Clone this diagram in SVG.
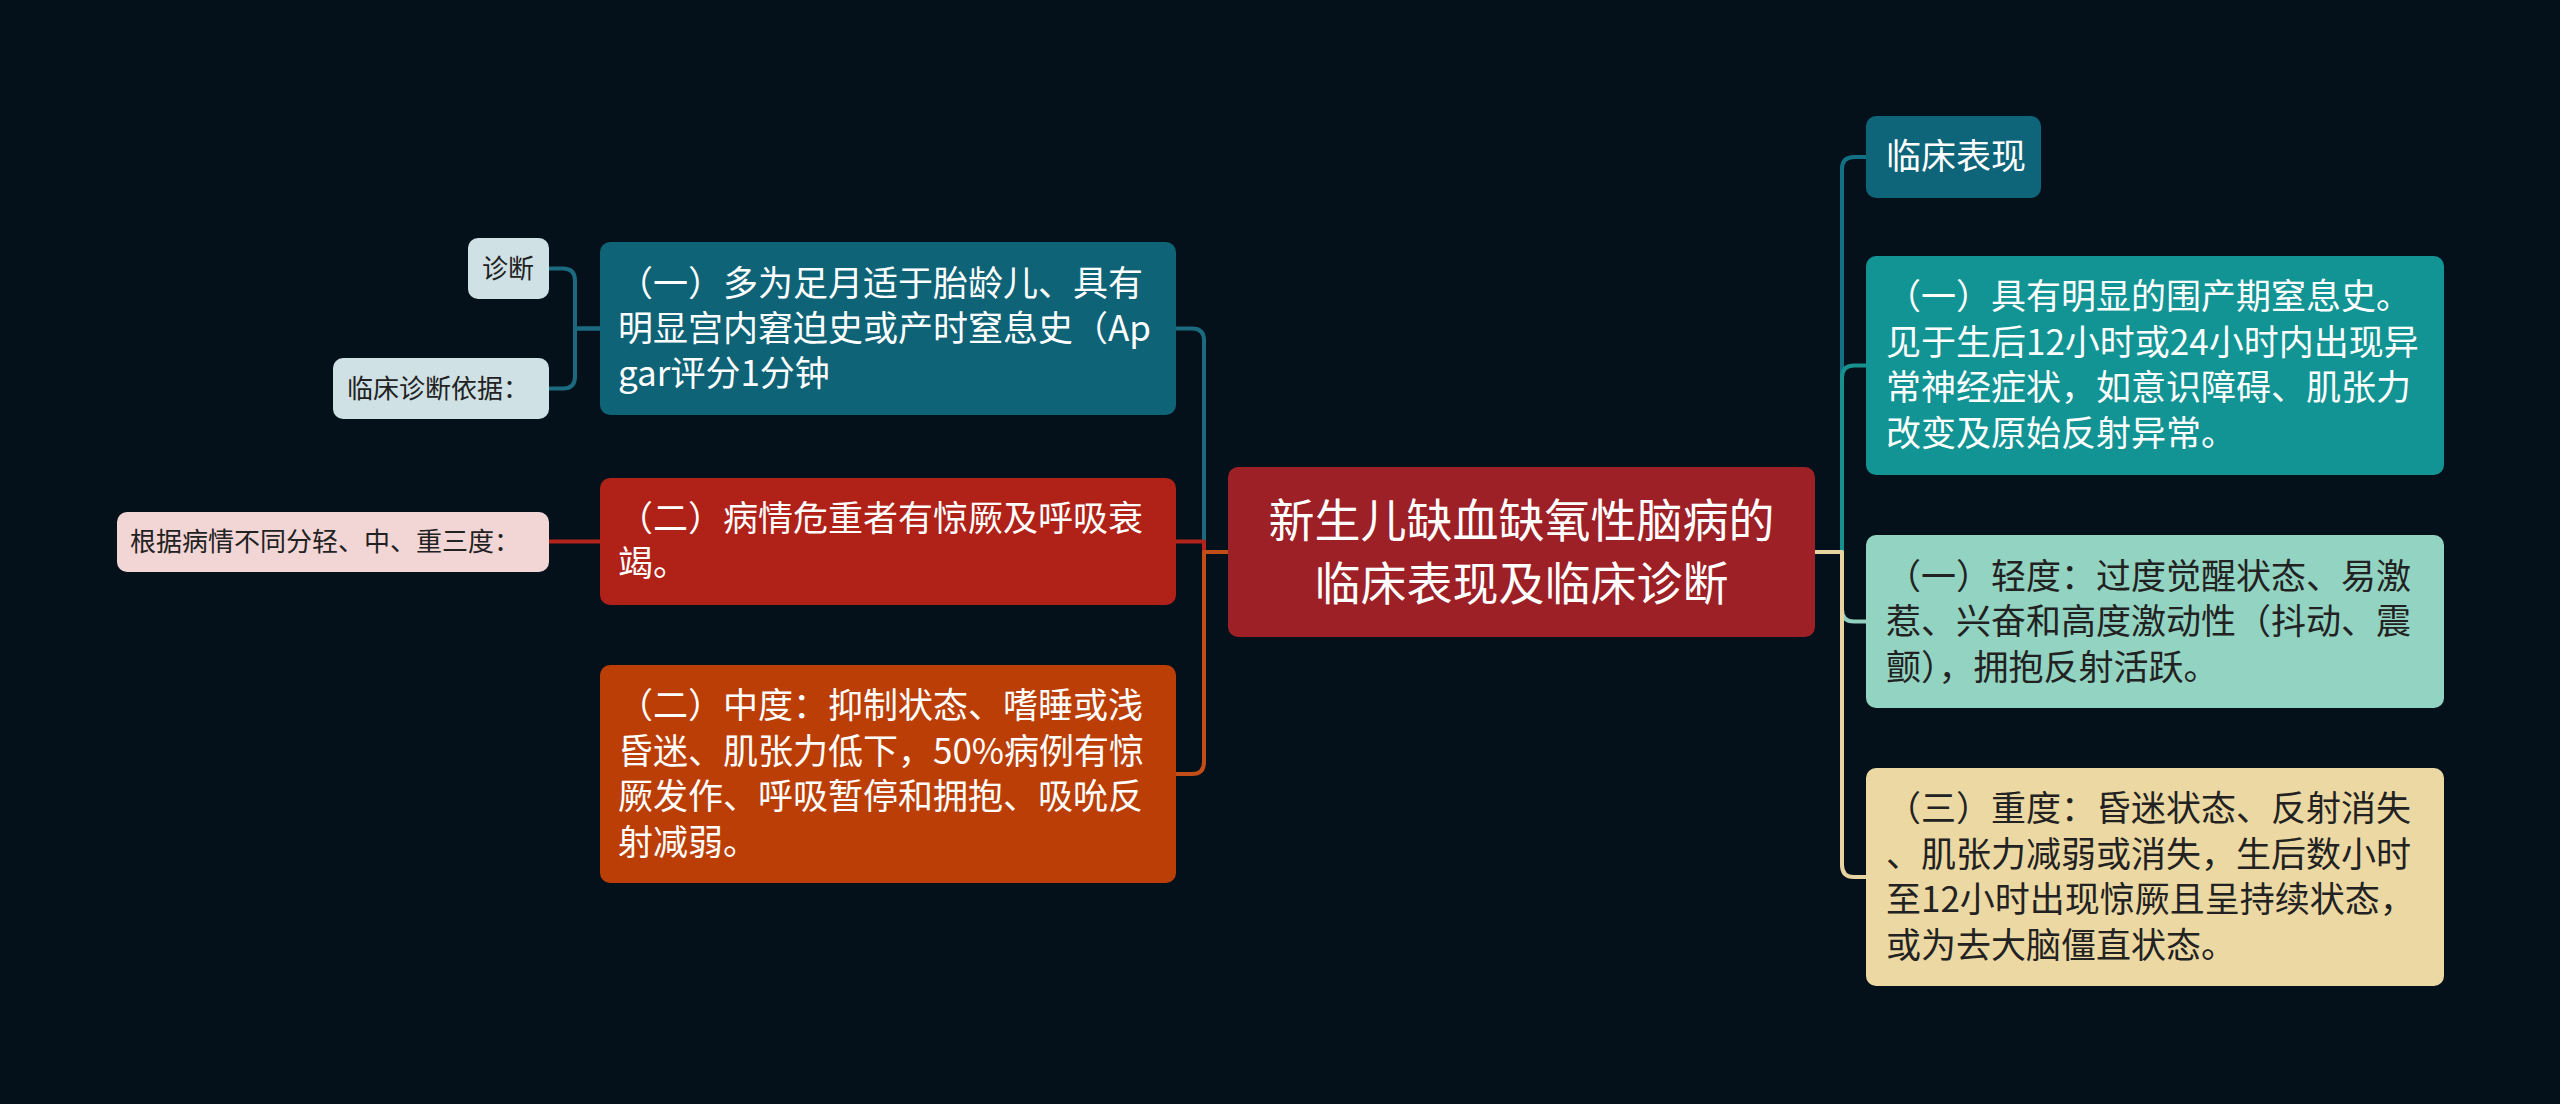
<svg xmlns="http://www.w3.org/2000/svg" width="2560" height="1104" viewBox="0 0 2560 1104">
<style>
text{font-family:"Noto Sans CJK SC","Noto Sans",sans-serif}
.m{font-size:35px}
.s{font-size:26px}
.c{font-size:46px}
.w{fill:#ffffff}
.d{fill:#222222}
.ln{fill:none;stroke-width:4;stroke-linecap:round;stroke-linejoin:round}
</style>
<rect x="0" y="0" width="2560" height="1104" fill="#04101a"/>
<g id="connectors">
<path class="ln" stroke="#1b6a7f" d="M1228,552 H1204 V340 Q1204,328.5 1192,328.5 H1176"/>
<path class="ln" stroke="#b2241b" d="M1228,552 H1204 V541.5 H1176"/>
<path class="ln" stroke="#c24d17" d="M1228,552 H1204 V762 Q1204,774 1192,774 H1176"/>
<path class="ln" stroke="#1b6a7f" d="M600,328.5 H575 V280.5 Q575,268.5 563,268.5 H549"/>
<path class="ln" stroke="#1b6a7f" d="M600,328.5 H575 V376.5 Q575,388.5 563,388.5 H549"/>
<path class="ln" stroke="#b2241b" d="M600,541.5 H549"/>
<path class="ln" stroke="#137185" d="M1815,552 H1842 V169 Q1842,157 1854,157 H1866"/>
<path class="ln" stroke="#17918f" d="M1815,552 H1842 V377.5 Q1842,365.5 1854,365.5 H1866"/>
<path class="ln" stroke="#8fd0bf" d="M1815,552 H1842 V609.5 Q1842,621.5 1854,621.5 H1866"/>
<path class="ln" stroke="#e7d4a1" d="M1815,552 H1842 V865 Q1842,877 1854,877 H1866"/>
</g>
<g id="center">
<rect x="1228" y="467" width="587" height="170" rx="10" fill="#9d2027"/>
<text class="c w" text-anchor="middle"><tspan x="1521.5" y="537">新生儿缺血缺氧性脑病的</tspan><tspan x="1521.5" y="600">临床表现及临床诊断</tspan></text>
</g>
<g id="left1">
<rect x="600" y="242" width="576" height="173" rx="10" fill="#0e6377"/>
<text class="m w"><tspan x="618" y="296">（一）多为足月适于胎龄儿、具有</tspan><tspan x="618" y="341">明显宫内窘迫史或产时窒息史（Ap</tspan><tspan x="618" y="386">gar评分1分钟</tspan></text>
</g>
<g id="left2">
<rect x="600" y="478" width="576" height="127" rx="10" fill="#b02118"/>
<text class="m w"><tspan x="618" y="531">（二）病情危重者有惊厥及呼吸衰</tspan><tspan x="618" y="576">竭。</tspan></text>
</g>
<g id="left3">
<rect x="600" y="665" width="576" height="218" rx="10" fill="#bb3e06"/>
<text class="m w"><tspan x="618" y="718">（二）中度：抑制状态、嗜睡或浅</tspan><tspan x="618" y="764">昏迷、肌张力低下，50%病例有惊</tspan><tspan x="618" y="809">厥发作、呼吸暂停和拥抱、吸吮反</tspan><tspan x="618" y="855">射减弱。</tspan></text>
</g>
<g id="leaf-zhenduan">
<rect x="468" y="238" width="81" height="61" rx="10" fill="#cfe1e5"/>
<text class="s d" x="482" y="278">诊断</text>
</g>
<g id="leaf-yiju">
<rect x="333" y="358" width="216" height="61" rx="10" fill="#cfe1e5"/>
<text class="s d" x="347" y="398">临床诊断依据：</text>
</g>
<g id="leaf-fendu">
<rect x="117" y="512" width="432" height="60" rx="10" fill="#f2d5d5"/>
<text class="s d" x="130" y="551">根据病情不同分轻、中、重三度：</text>
</g>
<g id="right0">
<rect x="1866" y="116" width="175" height="82" rx="10" fill="#0e6479"/>
<text class="m w" x="1886" y="169">临床表现</text>
</g>
<g id="right1">
<rect x="1866" y="256" width="578" height="219" rx="10" fill="#129494"/>
<text class="m w"><tspan x="1886" y="309">（一）具有明显的围产期窒息史。</tspan><tspan x="1886" y="355">见于生后12小时或24小时内出现异</tspan><tspan x="1886" y="400">常神经症状，如意识障碍、肌张力</tspan><tspan x="1886" y="446">改变及原始反射异常。</tspan></text>
</g>
<g id="right2">
<rect x="1866" y="535" width="578" height="173" rx="10" fill="#93d3c1"/>
<text class="m d"><tspan x="1886" y="589">（一）轻度：过度觉醒状态、易激</tspan><tspan x="1886" y="634">惹、兴奋和高度激动性（抖动、震</tspan><tspan x="1886" y="680">颤），拥抱反射活跃。</tspan></text>
</g>
<g id="right3">
<rect x="1866" y="768" width="578" height="218" rx="10" fill="#ebd8a3"/>
<text class="m d"><tspan x="1886" y="821">（三）重度：昏迷状态、反射消失</tspan><tspan x="1886" y="867">、肌张力减弱或消失，生后数小时</tspan><tspan x="1886" y="912">至12小时出现惊厥且呈持续状态，</tspan><tspan x="1886" y="958">或为去大脑僵直状态。</tspan></text>
</g>
</svg>
